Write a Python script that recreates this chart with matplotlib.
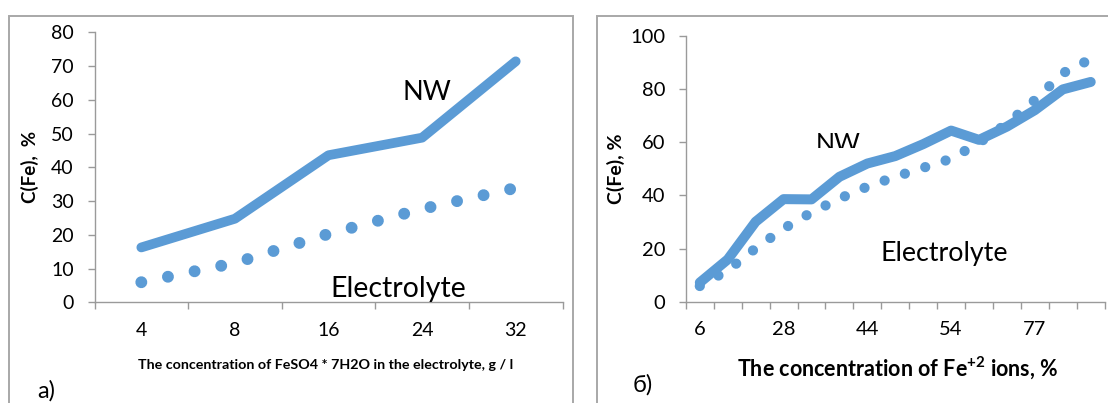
import numpy as np
import matplotlib
matplotlib.use("Agg")
import matplotlib.pyplot as plt
from matplotlib.patches import Rectangle
from matplotlib.transforms import Bbox, TransformedBbox

plt.rcParams['font.family'] = ['Lato', 'DejaVu Sans']
plt.rcParams['mathtext.fontset'] = 'custom'
plt.rcParams['mathtext.rm'] = 'Lato'
plt.rcParams['mathtext.bf'] = 'Lato:bold'

BLUE = '#5B9BD5'
AXIS_GREY = '#9A9A9A'
FRAME_GREY = '#A8A8A8'

# a) Fe content vs FeSO4*7H2O in the bath
salt_conc = ['4', '8', '16', '24', '32']
nw_fe_a = [16.3, 24.8, 43.6, 48.8, 71.4]
electrolyte_fe_a = [6.0, 11.7, 20.3, 27.7, 33.9]

# b) Fe content vs Fe+2 share of the ions (only every third category is labelled)
ion_labels = ['6', '', '', '28', '', '', '44', '', '', '54', '', '', '77', '', '']
nw_fe_b = [7.2, 15.9, 30.1, 38.6, 38.5, 47.0, 52.0, 54.8, 59.3, 64.4,
           60.9, 65.9, 72.1, 79.9, 82.7]
electrolyte_fe_b = [5.9, 11.8, 20.1, 27.5, 33.6, 38.8, 43.3, 47.0, 50.4, 53.8,
                    59.8, 67.0, 75.9, 86.0, 91.3]


def style_axes(ax, labels, ymax, ystep, fs):
    n = len(labels)
    ax.set_xlim(-0.5, n - 0.5)
    ax.set_ylim(0, ymax)
    ax.set_yticks(np.arange(0, ymax + 1, ystep))
    # tick marks sit between categories, labels in the middle
    ax.set_xticks(np.arange(n + 1) - 0.5)
    ax.set_xticklabels([])
    ax.set_xticks(np.arange(n), minor=True)
    ax.set_xticklabels(labels, minor=True)
    for side in ('top', 'right'):
        ax.spines[side].set_visible(False)
    for side in ('left', 'bottom'):
        ax.spines[side].set_color(AXIS_GREY)
        ax.spines[side].set_linewidth(1.0)
    ax.tick_params(axis='both', which='major', direction='out', length=5,
                   width=1.0, color=AXIS_GREY, labelsize=fs)
    ax.tick_params(axis='y', pad=10)
    ax.tick_params(axis='x', which='minor', length=0, labelsize=fs, pad=14)


def draw_series(ax, nw, electrolyte, lw, dot_lw, gap):
    x = np.arange(len(nw))
    ax.plot(x, nw, color=BLUE, lw=lw, solid_capstyle='round',
            solid_joinstyle='round', clip_on=False)
    ax.plot(x, electrolyte, color=BLUE, lw=dot_lw,
            linestyle=(0, (0.001, gap)), dash_capstyle='round', clip_on=False)


def y_title(ax, text, x, y, fs):
    ax.text(x, y, text, transform=ax.transAxes, rotation=90, fontsize=fs,
            fontweight='bold', ha='center', va='center')


fig = plt.figure(figsize=(11.08, 4.03), dpi=100)

# grey borders round both chart areas
fig.add_artist(Rectangle((9 / 1108, -0.1), 563.7 / 1108, 1.1 - 16 / 403,
                         transform=fig.transFigure, fill=False,
                         ec=FRAME_GREY, lw=1.4))
fig.add_artist(Rectangle((596.7 / 1108, -0.1), 0.6, 1.1 - 16 / 403,
                         transform=fig.transFigure, fill=False,
                         ec=FRAME_GREY, lw=1.4))

# ---- panel a) ----
ax1 = fig.add_axes([0.0853, 0.2494, 0.4224, 0.6705])
style_axes(ax1, salt_conc, 80, 10, 14)
draw_series(ax1, nw_fe_a, electrolyte_fe_a, 7.0, 8.6, 2.275)
y_title(ax1, 'C(Fe),  %', -0.137, 0.503, 13.5)
ax1.set_xlabel('The concentration of FeSO4 * 7H2O in the electrolyte, g / l',
               fontsize=10.3, fontweight='bold', va='baseline')
ax1.xaxis.set_label_coords(0.4936, -0.246)
ax1.text(3.05, 60.0, 'NW', fontsize=19.5, ha='center', va='baseline')
ax1.text(2.75, 1.7, 'Electrolyte', fontsize=20.5, ha='center', va='baseline')

# ---- panel б) ----
ax2 = fig.add_axes([0.6190, 0.2514, 0.3780, 0.6593])
style_axes(ax2, ion_labels, 100, 20, 14.5)
draw_series(ax2, nw_fe_b, electrolyte_fe_b, 7.2, 7.4, 2.08)
y_title(ax2, 'C(Fe), %', -0.1667, 0.4995, 14)
ax2.set_xlabel('The concentration of Fe$^{\\mathbf{+2}}$ ions, %',
               fontsize=15.5, fontweight='bold', va='baseline')
ax2.xaxis.set_label_coords(0.5067, -0.2796)
nw_txt = ax2.text(4.97, 56.7, 'NW', fontsize=18, ha='center', va='baseline')
# the NW caption is cut off along its lower edge
nw_txt.set_clip_box(TransformedBbox(Bbox([[-0.5, 58.0], [14.5, 100]]),
                                    ax2.transData))
nw_txt.set_clip_on(True)
ax2.text(8.75, 15.3, 'Electrolyte', fontsize=19.3, ha='center', va='baseline')

fig.text(37 / 1108, (403 - 398) / 403, 'a)', fontsize=17, va='baseline')
fig.text(633 / 1108, (403 - 392) / 403, 'б)', fontsize=17, va='baseline')

fig.savefig('out.png', dpi=100)
